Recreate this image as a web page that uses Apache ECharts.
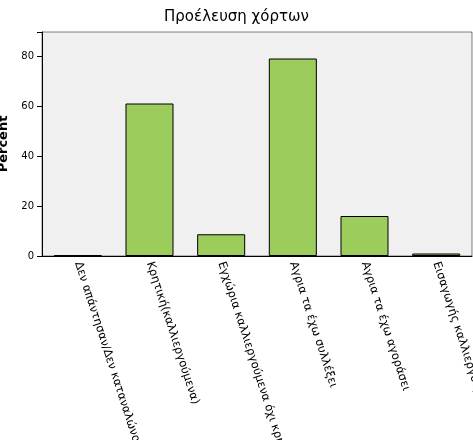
<!DOCTYPE html>
<html><head><meta charset="utf-8">
<script src="https://cdn.jsdelivr.net/npm/echarts@6/dist/echarts.min.js"></script>
<style>html,body{margin:0;background:#fff}</style>
</head><body>
<div id="c" style="width:473px;height:440px"></div>
<script>
var categories = ['Δεν απάντησαν/Δεν καταναλώνουν', 'Κρητική(καλλιεργούμενα)', 'Εγχώρια καλλιεργούμενα όχι κρητικά', 'Αγρια τα έχω συλλέξει', 'Αγρια τα έχω αγοράσει', 'Εισαγωγής καλλιεργούμενα'];
var percents = [0.3, 61, 8.7, 79, 16, 1];

var chart = echarts.init(document.getElementById('c'));
chart.setOption({
  animation: false,
  title: { text: 'Προέλευση χόρτων', left: 'center', top: 5,
    textStyle: { fontFamily: 'DejaVu Sans', fontSize: 15, fontWeight: 'normal', color: '#000' } },
  grid: { left: 42, right: 1, top: 32, bottom: 184, containLabel: false, outerBoundsMode: 'none',
    backgroundColor: '#f0f0f0', show: true, borderColor: '#000', borderWidth: 0.5 },
  xAxis: {
    type: 'category', data: categories,
    axisLine: { lineStyle: { color: '#000' } },
    axisTick: { alignWithLabel: true, length: 5, lineStyle: { color: '#000' } },
    axisLabel: { rotate: -72, interval: 0, color: '#000', fontFamily: 'DejaVu Sans', fontSize: 11.5, margin: 6 }
  },
  yAxis: {
    type: 'value', min: 0, max: 89.6, interval: 20,
    name: 'Percent', nameLocation: 'middle', nameGap: 28,
    nameTextStyle: { fontFamily: 'DejaVu Sans', fontWeight: 'bold', fontSize: 13, color: '#000' },
    axisLine: { show: true, lineStyle: { color: '#000' } },
    axisTick: { show: true, length: 5, lineStyle: { color: '#000' } },
    splitLine: { show: false },
    axisLabel: { color: '#000', fontFamily: 'DejaVu Sans', fontSize: 10,
      formatter: function (v) { return v % 20 === 0 ? v : ''; } }
  },
  series: [{
    type: 'bar', data: percents, barWidth: '67%',
    itemStyle: { color: '#9ccc5c', borderColor: '#000', borderWidth: 1 }
  }]
});
</script>
</body></html>
